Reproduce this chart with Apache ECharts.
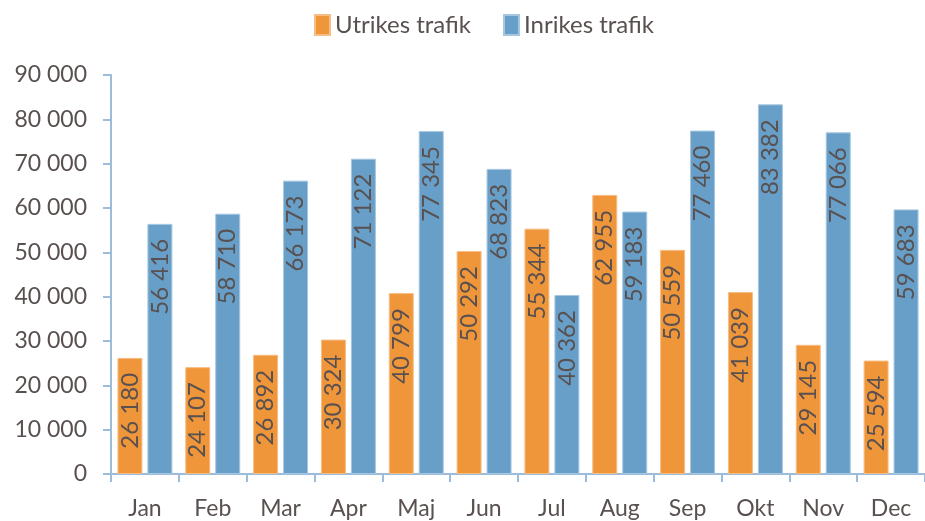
<!DOCTYPE html>
<html>
<head>
<meta charset="utf-8">
<script src="https://cdn.jsdelivr.net/npm/echarts@6/dist/echarts.min.js"></script>
<style>
  html, body { margin: 0; padding: 0; background: #fff; }
  #main { width: 925px; height: 521px; }
</style>
</head>
<body>
<div id="main"></div>
<script>
var months = ['Jan', 'Feb', 'Mar', 'Apr', 'Maj', 'Jun', 'Jul', 'Aug', 'Sep', 'Okt', 'Nov', 'Dec'];
var utrikes = [26180, 24107, 26892, 30324, 40799, 50292, 55344, 62955, 50559, 41039, 29145, 25594];
var inrikes = [56416, 58710, 66173, 71122, 77345, 68823, 40362, 59183, 77460, 83382, 77066, 59683];

var textColor = '#595050';
var axisColor = '#9dbcdb';
var fontFam = 'Lato, "Open Sans", sans-serif';

// 90000 -> "90 000"
var fmt = v => String(v).replace(/\B(?=(\d{3})+(?!\d))/g, ' ');

var barLabel = {
    show: true,
    position: 'insideTop',
    rotate: 90,
    align: 'right',
    verticalAlign: 'middle',
    distance: 15,
    color: textColor,
    fontFamily: fontFam,
    fontSize: 24,
    formatter: p => fmt(p.value)
};

var chart = echarts.init(document.getElementById('main'));
var option = {
    animation: false,
    legend: {
        top: 8,
        left: 309,
        icon: 'rect',
        itemWidth: 15,
        itemHeight: 20,
        itemGap: 32,
        textStyle: { color: textColor, fontFamily: fontFam, fontSize: 24 },
        data: ['Utrikes trafik', 'Inrikes trafik']
    },
    grid: { left: 111, top: 75, width: 820, height: 399 },
    xAxis: {
        type: 'category',
        data: months,
        axisLine: { lineStyle: { color: axisColor, width: 2 } },
        axisTick: { show: true, length: 8, lineStyle: { color: axisColor, width: 2 } },
        axisLabel: { color: textColor, fontFamily: fontFam, fontSize: 23, margin: 23 }
    },
    yAxis: {
        type: 'value',
        min: 0,
        max: 90000,
        interval: 10000,
        splitLine: { show: false },
        axisLine: { show: true, lineStyle: { color: axisColor, width: 2 } },
        axisTick: { show: true, length: 8, lineStyle: { color: axisColor, width: 2 } },
        axisLabel: { color: textColor, fontFamily: fontFam, fontSize: 23, margin: 24, formatter: fmt }
    },
    series: [
        {
            name: 'Utrikes trafik',
            type: 'bar',
            data: utrikes,
            barGap: '20%',
            barCategoryGap: '19%',
            itemStyle: { color: '#f0963a', borderColor: '#f6bd85', borderWidth: 1 },
            label: barLabel
        },
        {
            name: 'Inrikes trafik',
            type: 'bar',
            data: inrikes,
            itemStyle: { color: '#679fc8', borderColor: '#a6c7e0', borderWidth: 1 },
            label: barLabel
        }
    ]
};
chart.setOption(option);
</script>
</body>
</html>
